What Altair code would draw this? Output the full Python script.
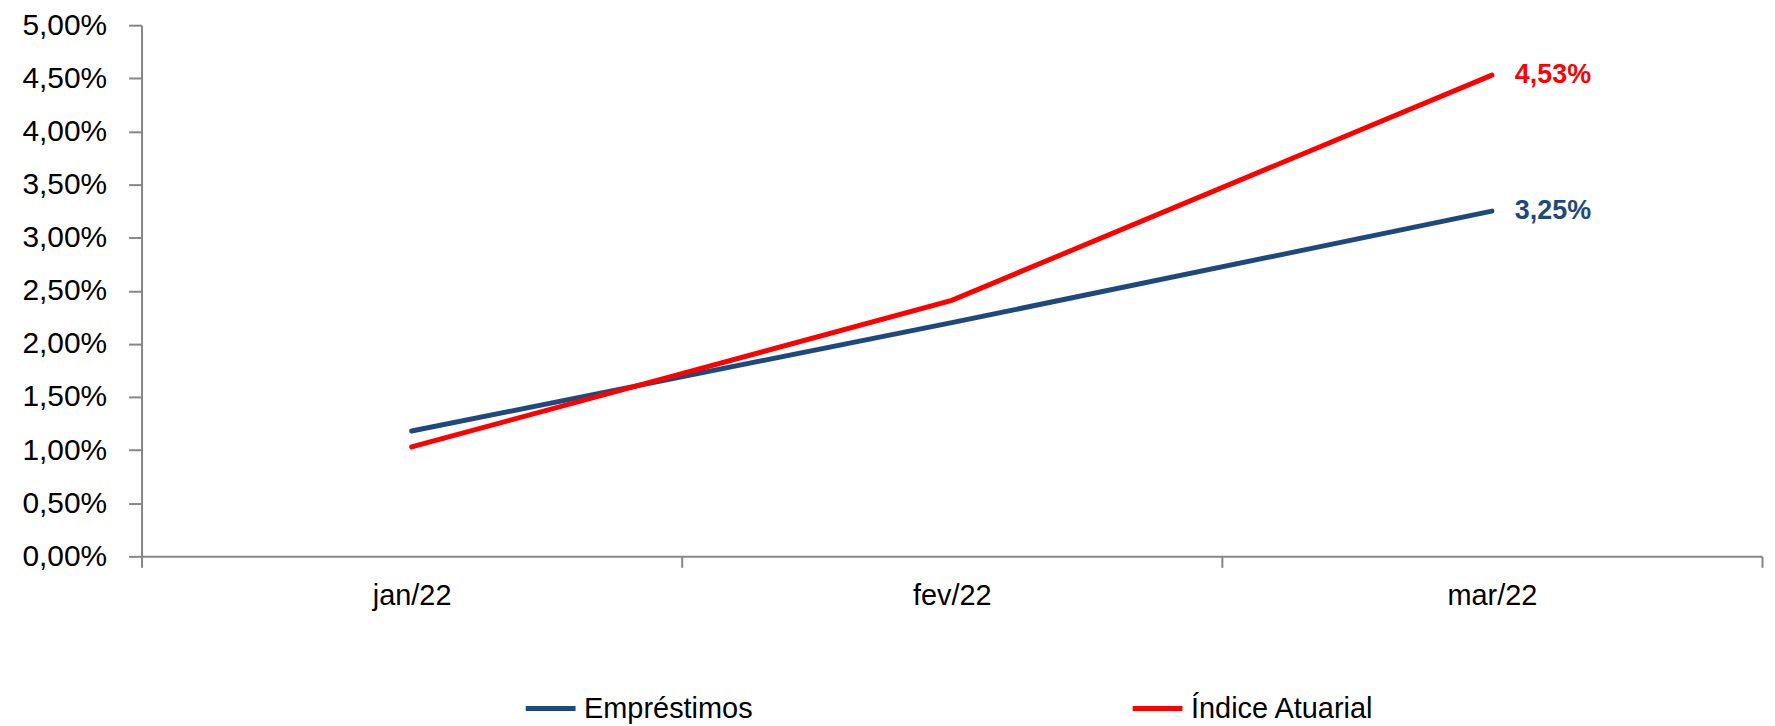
import altair as alt
import pandas as pd

# ---- data ----
months = ["jan/22", "fev/22", "mar/22"]
series_names = ["Empréstimos", "Índice Atuarial"]
series_colors = ["#1F497D", "#FF0000"]
emprestimos = [0.0118, 0.0220, 0.0325]
indice_atuarial = [0.0103, 0.0241, 0.0453]
y_ticks = [0.0, 0.005, 0.01, 0.015, 0.02, 0.025, 0.03, 0.035, 0.04, 0.045, 0.05]

rows = []
for name, vals in zip(series_names, [emprestimos, indice_atuarial]):
    for m, v in zip(months, vals):
        rows.append({"month": m, "serie": name, "value": v})
df = pd.DataFrame(rows)

FONT = "Liberation Sans"
AXIS_GRAY = "#868686"
pct_expr = "replace(format(datum.value, '.2%'), '.', ',')"

x_enc = alt.X(
    "month:N",
    sort=months,
    bandPosition=0.5,
    scale=alt.Scale(type="band", paddingInner=0, paddingOuter=0),
    axis=alt.Axis(
        title=None, labelAngle=0, tickBand="extent", tickSize=11, tickWidth=2,
        tickColor=AXIS_GRAY, domainColor=AXIS_GRAY, domainWidth=2,
        labelFont=FONT, labelFontSize=29, labelColor="#000000", labelPadding=14,
        grid=False,
    ),
)
y_enc = alt.Y(
    "value:Q",
    scale=alt.Scale(domain=[0, 0.05], nice=False, zero=True),
    axis=alt.Axis(
        title=None, values=y_ticks, labelExpr=pct_expr, tickSize=13, tickWidth=2,
        tickColor=AXIS_GRAY, domainColor=AXIS_GRAY, domainWidth=2,
        labelFont=FONT, labelFontSize=30, labelColor="#000000", labelPadding=22,
        grid=False,
    ),
)

base = alt.Chart(df)

lines = base.mark_line(strokeWidth=5, strokeCap="round").encode(
    x=x_enc,
    y=y_enc,
    color=alt.Color(
        "serie:N",
        scale=alt.Scale(domain=series_names, range=series_colors),
        legend=alt.Legend(
            orient="none", legendX=383, legendY=658, direction="horizontal",
            columns=2, title=None, symbolType="stroke", symbolSize=2500,
            symbolStrokeWidth=5, labelFont=FONT, labelFontSize=29,
            labelColor="#000000", labelLimit=400, labelOffset=6,
            columnPadding=370,
        ),
    ),
)

label_layers = []
for name, col in zip(series_names, series_colors):
    t = (
        base.transform_filter(
            (alt.datum.month == months[-1]) & (alt.datum.serie == name)
        )
        .transform_calculate(label="replace(format(datum.value, '.2%'), '.', ',')")
        .mark_text(
            align="left", baseline="middle", dx=23, font=FONT, fontSize=27,
            fontWeight="bold", color=col,
        )
        .encode(x=x_enc, y=y_enc, text="label:N")
    )
    label_layers.append(t)

chart = (
    alt.layer(lines, *label_layers)
    .properties(
        width=1626,
        height=533,
        autosize=alt.AutoSizeParams(type="none"),
        padding={"left": 134, "top": 16, "right": 5, "bottom": 176},
        background="white",
    )
    .configure_view(stroke=None)
)

chart.save("out.html", embed_options={"renderer": "svg", "actions": False})
